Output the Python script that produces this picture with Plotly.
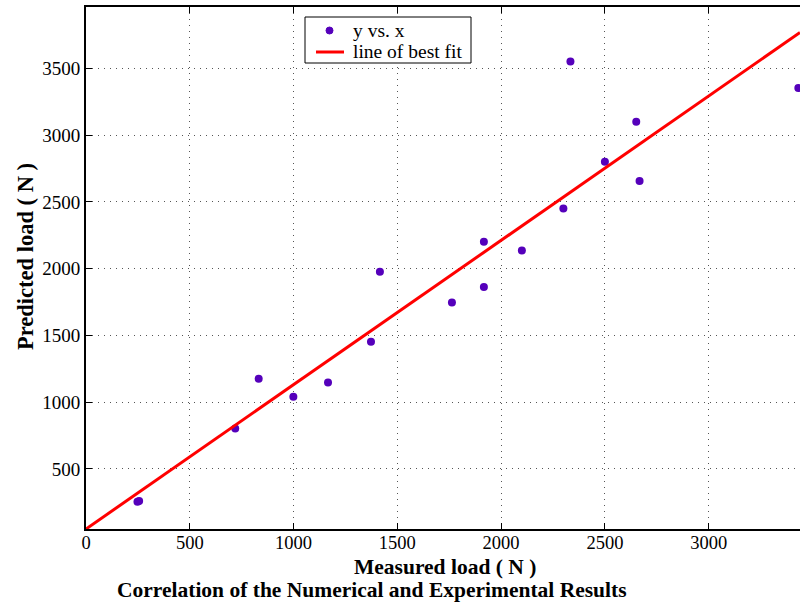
import plotly.graph_objects as go

measured = [248, 256, 719, 832, 999, 1166, 1373, 1416, 1763, 1917, 1917, 2100, 2300, 2334, 2500, 2651, 2667, 3432]
predicted = [255, 259, 802, 1176, 1041, 1148, 1453, 1977, 1747, 1862, 2201, 2136, 2451, 3551, 2800, 3100, 2656, 3353]

fit_x = [0, 3440]
fit_y = [50, 3769]

x_ticks = [0, 500, 1000, 1500, 2000, 2500, 3000]
y_ticks = [500, 1000, 1500, 2000, 2500, 3000, 3500]

legend_labels = ["y vs. x", "line of best fit"]

FONT = "Liberation Serif, Times New Roman, serif"
MARKER_COLOR = "#5500bb"
LINE_COLOR = "#ff0000"

fig = go.Figure()
fig.add_trace(go.Scatter(x=measured, y=predicted, mode="markers", name=legend_labels[0],
                         marker=dict(color=MARKER_COLOR, size=8)))
fig.add_trace(go.Scatter(x=fit_x, y=fit_y, mode="lines", name=legend_labels[1],
                         line=dict(color=LINE_COLOR, width=3)))

grid = dict(showgrid=True, gridcolor="#555555", griddash="1px,5px", gridwidth=1)

# pixel -> paper helpers (plot area: x 86..800, y 7..529)
def px(x):
    return (x - 86) / 714

def py(y):
    return (529 - y) / 522

shapes = [
    dict(type="rect", xref="paper", yref="paper", x0=px(305), x1=px(471), y0=py(63), y1=py(17),
         line=dict(color="black", width=1), fillcolor="white", layer="above"),
    dict(type="circle", xref="paper", yref="paper", x0=px(326), x1=px(333), y0=py(34), y1=py(27),
         line=dict(color=MARKER_COLOR, width=1), fillcolor=MARKER_COLOR, layer="above"),
    dict(type="line", xref="paper", yref="paper", x0=px(316), x1=px(344), y0=py(52), y1=py(52),
         line=dict(color=LINE_COLOR, width=3), layer="above"),
]

annotations = [
    dict(text=legend_labels[0], xref="paper", yref="paper", x=px(351), y=py(30),
         xanchor="left", yanchor="middle", showarrow=False, font=dict(size=19.5)),
    dict(text=legend_labels[1], xref="paper", yref="paper", x=px(351), y=py(51),
         xanchor="left", yanchor="middle", showarrow=False, font=dict(size=19.5)),
    dict(text="<b>Measured load ( N )</b>", xref="paper", yref="paper",
         x=px(445), y=py(567), xanchor="center", yanchor="middle",
         showarrow=False, font=dict(size=21.5)),
    dict(text="<b>Correlation of the Numerical and Experimental Results</b>",
         xref="paper", yref="paper", x=px(372), y=py(589.5),
         xanchor="center", yanchor="middle", showarrow=False, font=dict(size=21.5)),
    dict(text="<b>Predicted load ( N )</b>", xref="paper", yref="paper",
         x=px(25), y=py(257), xanchor="center", yanchor="middle",
         showarrow=False, textangle=-90, font=dict(size=22.5)),
]

fig.update_layout(
    width=800, height=602,
    margin=dict(l=86, r=0, t=7, b=73),
    paper_bgcolor="white", plot_bgcolor="white",
    font=dict(family=FONT, size=19, color="black"),
    showlegend=False,
    xaxis=dict(range=[0, 3440], tickvals=x_ticks, ticks="inside", ticklen=6,
               tickcolor="black", showline=True, linecolor="black", linewidth=2,
               mirror="allticks", zeroline=False, tickfont=dict(size=18.5), **grid),
    yaxis=dict(range=[50, 3960], tickvals=y_ticks, ticks="inside", ticklen=6,
               tickcolor="black", showline=True, linecolor="black", linewidth=2,
               mirror=False, zeroline=False, tickfont=dict(size=19), **grid),
    shapes=shapes,
    annotations=annotations,
)

try:
    fig.update_xaxes(ticklabelstandoff=-4)
except ValueError:
    pass

fig.write_html("out.html")
